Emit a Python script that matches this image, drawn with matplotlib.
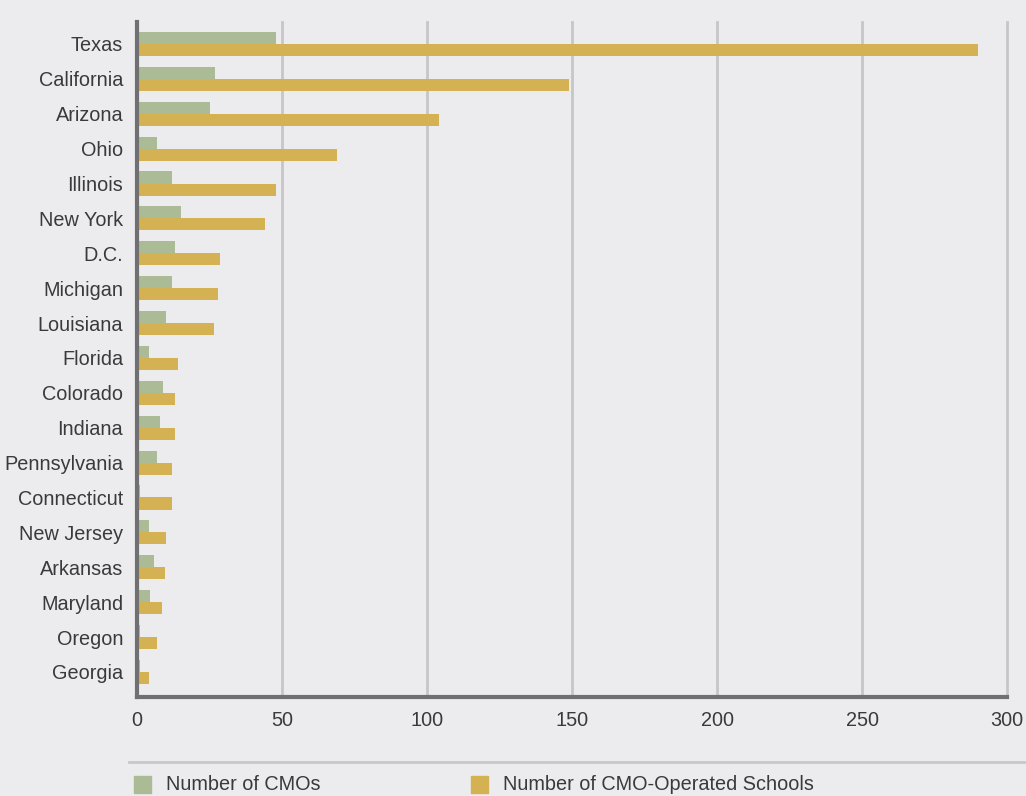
import matplotlib
matplotlib.use("Agg")
import matplotlib.pyplot as plt
from matplotlib.patches import Rectangle
from matplotlib.lines import Line2D
from matplotlib import font_manager
import numpy as np

states = ["Texas", "California", "Arizona", "Ohio", "Illinois", "New York", "D.C.",
          "Michigan", "Louisiana", "Florida", "Colorado", "Indiana", "Pennsylvania",
          "Connecticut", "New Jersey", "Arkansas", "Maryland", "Oregon", "Georgia"]
cmos = [48, 27, 25, 7, 12, 15, 13, 12, 10, 4, 9, 8, 7, 1, 4, 6, 4.5, 1, 1]
schools = [290, 149, 104, 69, 48, 44, 28.5, 28, 26.5, 14, 13, 13, 12, 12, 10, 9.5, 8.5, 7, 4]
series_labels = ["Number of CMOs", "Number of CMO-Operated Schools"]
xticks = [0, 50, 100, 150, 200, 250, 300]

avail = {f.name for f in font_manager.fontManager.ttflist}
fam = [f for f in ["Liberation Sans", "DejaVu Sans"] if f in avail] or ["DejaVu Sans"]
plt.rcParams['font.family'] = fam

BG = "#ECECEE"
GREEN = "#AABB96"
GOLD = "#D4B254"
TXT = "#3A3A3C"
fs = 14.3

fig = plt.figure(figsize=(10.26, 7.96), dpi=100, facecolor=BG)
ax = fig.add_axes([137/1026, 1-697/796, 870/1026, 675/796])
ax.set_facecolor(BG)

y = np.arange(len(states))
h = 0.345
ax.barh(y - h/2, cmos, height=h, color=GREEN, zorder=2)
ax.barh(y + h/2, schools, height=h, color=GOLD, zorder=2)

ax.set_xlim(0, 300)
ax.set_ylim(len(states) - 1 + 0.72, -0.63)
ax.set_xticks(xticks)
ax.set_xticklabels([str(t) for t in xticks], fontsize=fs, color=TXT)
ax.set_yticks(y)
ax.set_yticklabels(states, fontsize=fs, color=TXT)
ax.tick_params(axis='both', length=0)
ax.tick_params(axis='y', pad=10)
ax.tick_params(axis='x', pad=10)
for t in xticks[1:]:
    ax.axvline(t, color="#C6C6C8", lw=2, zorder=1, clip_on=False)
for s in ["top", "right"]:
    ax.spines[s].set_visible(False)
for s in ["left", "bottom"]:
    ax.spines[s].set_color("#707072")
    ax.spines[s].set_linewidth(3)
    ax.spines[s].set_zorder(3)

# separator line above legend
fig.add_artist(Line2D([129/1026, 1.0], [1-762/796, 1-762/796], color="#C8C8CA", lw=2))

# legend
colors = [GREEN, GOLD]
xs = [134, 471]
for lab, c, x0 in zip(series_labels, colors, xs):
    fig.add_artist(Rectangle((x0/1026, 1-793/796), 17/1026, 17/796, color=c, transform=fig.transFigure))
    fig.text((x0+32)/1026, 1-785/796, lab, fontsize=fs, color=TXT, va='center', ha='left')

fig.savefig("out.png", dpi=100, facecolor=BG)
